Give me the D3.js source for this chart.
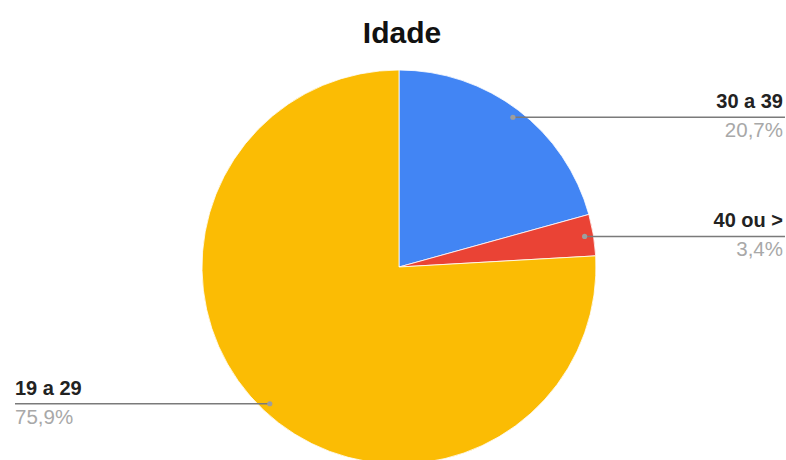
<!DOCTYPE html>
<html>
<head>
<meta charset="utf-8">
<script src="https://cdn.jsdelivr.net/npm/d3@7"></script>
<style>
  html, body { margin: 0; padding: 0; background: #fff; }
  svg { display: block; font-family: "Liberation Sans", Arial, sans-serif; }
</style>
</head>
<body>
<svg id="chart" width="786" height="460"></svg>
<script>
// Age distribution
const categories = ["30 a 39", "40 ou >", "19 a 29"];
const values = [20.7, 3.4, 75.9];
const valueLabels = ["20,7%", "3,4%", "75,9%"];
const colors = ["#4285F4", "#EA4335", "#FBBC04"];
const labelSides = ["right", "right", "left"];

const W = 786, H = 460;
const cx = 399, cy = 267, R = 197;

const svg = d3.select("#chart");

svg.append("text")
  .attr("x", 402).attr("y", 43)
  .attr("text-anchor", "middle")
  .attr("font-size", 30).attr("font-weight", "bold")
  .attr("fill", "#111")
  .text("Idade");

const data = categories.map((c, i) => ({ name: c, value: values[i], label: valueLabels[i], color: colors[i], side: labelSides[i] }));

const pie = d3.pie().value(d => d.value).sort(null);
const arc = d3.arc().innerRadius(0).outerRadius(R);
const arcs = pie(data);

const g = svg.append("g").attr("transform", `translate(${cx},${cy})`);

g.selectAll("path.slice")
  .data(arcs)
  .join("path")
  .attr("class", "slice")
  .attr("d", arc)
  .attr("fill", d => d.data.color)
  .attr("stroke", "#fff")
  .attr("stroke-width", 0.8);

// Leader lines: from a point inside each slice out horizontally to the label
const leftX = 15, rightX = 785;

arcs.forEach(a => {
  const mid = (a.startAngle + a.endAngle) / 2;
  const px = cx + Math.sin(mid) * R * 0.955;
  const py = cy - Math.cos(mid) * R * 0.955;
  const right = a.data.side === "right";
  const ex = right ? rightX : leftX;

  svg.append("line")
    .attr("x1", px).attr("y1", py)
    .attr("x2", ex).attr("y2", py)
    .attr("stroke", "#7a7a7a").attr("stroke-width", 1.5);

  svg.append("circle")
    .attr("cx", px).attr("cy", py).attr("r", 2.6)
    .attr("fill", "#9e9e9e");

  const tx = right ? 783 : leftX;
  const anchor = right ? "end" : "start";

  svg.append("text")
    .attr("x", tx).attr("y", py - 9)
    .attr("text-anchor", anchor)
    .attr("font-size", 20).attr("font-weight", "bold")
    .attr("fill", "#222")
    .text(a.data.name);

  svg.append("text")
    .attr("x", tx).attr("y", py + 20)
    .attr("text-anchor", anchor)
    .attr("font-size", 20.5)
    .attr("fill", "#a8a8a8")
    .text(a.data.label);
});
</script>
</body>
</html>
